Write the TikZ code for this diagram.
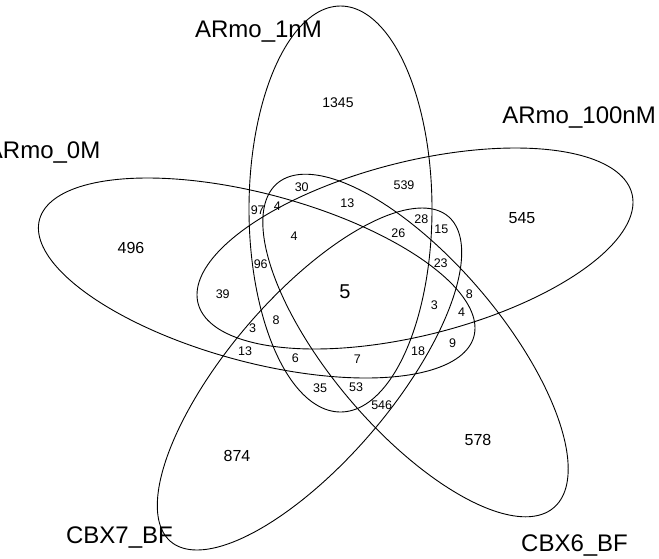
\documentclass[tikz,border=0pt]{standalone}
\usepackage{fontspec}
\setmainfont{Liberation Sans}
\begin{document}
\begin{tikzpicture}[x=1pt,y=-1pt,
  setlabel/.style={font=\fontsize{24}{24}\selectfont, inner sep=0pt},
  outnum/.style={font=\fontsize{16}{16}\selectfont, inner sep=0pt},
  innum/.style={font=\fontsize{12.5}{12.5}\selectfont, inner sep=0pt},
  ell/.style={line width=0.9pt, black}]
\useasboundingbox (0,0) rectangle (659,558);
\fill[white] (0,0) rectangle (659,558);
% ellipses: x = x0 + W cos t, y = y0 + H cos(t + alpha)
\draw[ell] plot[domain=0:358, samples=180, smooth cycle] ({340.5+91.5*cos(\x)}, {209+203*cos(\x+90)});
\draw[ell] plot[domain=0:358, samples=180, smooth cycle] ({415+218*cos(\x)}, {248.5+100.5*cos(\x+117.4)});
\draw[ell] plot[domain=0:358, samples=180, smooth cycle] ({256.7+218.3*cos(\x)}, {278+100*cos(\x+60)});
\draw[ell] plot[domain=0:358, samples=180, smooth cycle] ({415.5+152.7*cos(\x)}, {345.5+171.3*cos(\x+43.9)});
\draw[ell] plot[domain=0:358, samples=180, smooth cycle] ({309.5+152.2*cos(\x)}, {379+171*cos(\x+137.7)});
% set labels
\node[setlabel, anchor=base east] (l1) at (322,37) {ARmo\_1nM};
\node[setlabel, anchor=base east] (l2) at (656,123) {ARmo\_100nM};
\node[setlabel, anchor=base east] (l3) at (100.5,158) {ARmo\_0M};
\node[setlabel, anchor=base east] (l4) at (173,543) {CBX7\_BF};
\node[setlabel, anchor=base west] (l5) at (521,551) {CBX6\_BF};
% outer counts
\node[outnum, font=\fontsize{14}{14}\selectfont] (n1345) at (338,103) {1345};
\node[outnum] (n545) at (522,218) {545};
\node[outnum] (n496) at (131,248) {496};
\node[outnum] (n874) at (237,456) {874};
\node[outnum] (n578) at (478,440) {578};
% center
\node[font=\fontsize{20}{20}\selectfont, inner sep=0pt] (n5) at (345,292) {5};
% inner counts
\node[innum] (a30) at (301.7,186.7) {30};
\node[innum] (a539) at (404,185) {539};
\node[innum] (a97) at (257.7,210) {97};
\node[innum] (a4a) at (277.3,206) {4};
\node[innum] (a13a) at (347.3,202.7) {13};
\node[innum] (a28) at (421.3,219.3) {28};
\node[innum] (a15) at (441.3,229.3) {15};
\node[innum] (a4b) at (294,236) {4};
\node[innum] (a26) at (398.3,233.3) {26};
\node[innum] (a96) at (260.7,264) {96};
\node[innum] (a23) at (440.7,262.7) {23};
\node[innum] (a39) at (222.7,294) {39};
\node[innum] (a8a) at (469.3,294) {8};
\node[innum] (a3a) at (434.3,305) {3};
\node[innum] (a4c) at (461.7,312.3) {4};
\node[innum] (a3b) at (252.7,327.7) {3};
\node[innum] (a8b) at (276,320) {8};
\node[innum] (a13b) at (245,350.7) {13};
\node[innum] (a6) at (295.3,358) {6};
\node[innum] (a7) at (357.3,359.3) {7};
\node[innum] (a18) at (418,351) {18};
\node[innum] (a9) at (452.7,342.7) {9};
\node[innum] (a35) at (320,388.5) {35};
\node[innum] (a53) at (356,387.5) {53};
\node[innum] (a546) at (381.7,405) {546};
\end{tikzpicture}
\end{document}
